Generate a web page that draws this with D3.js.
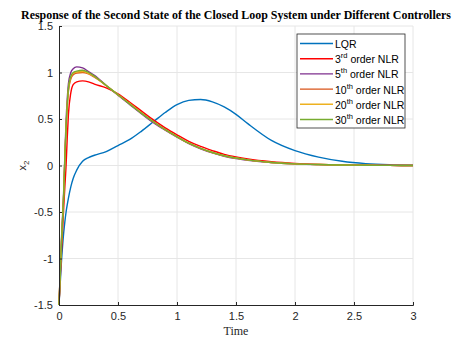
<!DOCTYPE html>
<html>
<head>
<meta charset="utf-8">
<script src="https://cdn.jsdelivr.net/npm/d3@7"></script>
<style>
  body { margin: 0; background: #fff; }
  svg { display: block; }
</style>
</head>
<body>
<svg id="chart"></svg>
<script>
// time samples
var time = [0, 0.02, 0.04, 0.05, 0.06, 0.07, 0.08, 0.1, 0.12, 0.15, 0.2, 0.25, 0.3, 0.4, 0.5, 0.6, 0.7, 0.8, 0.9, 1.0, 1.1, 1.2, 1.3, 1.4, 1.5, 1.6, 1.8, 2.0, 2.2, 2.4, 2.6, 2.8, 3.0];

// x2 responses
var lqr   = [-1.5, -1.05, -0.72, -0.6, -0.5, -0.42, -0.35, -0.23, -0.14, -0.05, 0.045, 0.085, 0.11, 0.15, 0.215, 0.28, 0.37, 0.47, 0.57, 0.655, 0.70, 0.71, 0.685, 0.63, 0.55, 0.45, 0.27, 0.16, 0.09, 0.045, 0.02, 0.008, 0.003];
var nlr3  = [-1.5, -0.95, -0.45, -0.22, 0.0, 0.3, 0.55, 0.78, 0.87, 0.90, 0.91, 0.90, 0.875, 0.835, 0.77, 0.68, 0.585, 0.49, 0.405, 0.33, 0.26, 0.205, 0.16, 0.12, 0.092, 0.07, 0.04, 0.022, 0.012, 0.006, 0.003, 0.001, 0];
var nlr5  = [-1.5, -0.82, -0.26, 0.12, 0.48, 0.72, 0.88, 1.0, 1.04, 1.06, 1.05, 1.01, 0.97, 0.86, 0.755, 0.655, 0.555, 0.46, 0.38, 0.305, 0.235, 0.18, 0.135, 0.10, 0.075, 0.057, 0.031, 0.017, 0.009, 0.005, 0.003, 0.001, 0];
var nlr10 = [-1.5, -0.86, -0.3, 0.08, 0.4, 0.64, 0.8, 0.93, 0.975, 0.995, 1.0, 0.985, 0.95, 0.86, 0.76, 0.665, 0.565, 0.47, 0.385, 0.31, 0.24, 0.185, 0.14, 0.105, 0.08, 0.06, 0.033, 0.018, 0.01, 0.005, 0.003, 0.001, 0];
var nlr20 = [-1.5, -0.85, -0.3, 0.1, 0.42, 0.66, 0.82, 0.95, 0.99, 1.005, 1.01, 0.99, 0.955, 0.86, 0.76, 0.665, 0.565, 0.47, 0.385, 0.31, 0.24, 0.185, 0.14, 0.105, 0.08, 0.06, 0.033, 0.018, 0.01, 0.005, 0.003, 0.001, 0];
var nlr30 = [-1.5, -0.85, -0.3, 0.1, 0.42, 0.66, 0.83, 0.96, 1.0, 1.015, 1.025, 1.0, 0.96, 0.86, 0.76, 0.66, 0.56, 0.47, 0.385, 0.31, 0.24, 0.185, 0.14, 0.105, 0.08, 0.06, 0.033, 0.018, 0.01, 0.005, 0.003, 0.001, 0];

var seriesNames = ["LQR", "3rd order NLR", "5th order NLR", "10th order NLR", "20th order NLR", "30th order NLR"];
var seriesColors = ["#0072BD", "#FF0000", "#7E2F8E", "#D95319", "#EDB120", "#77AC30"];
var seriesValues = [lqr, nlr3, nlr5, nlr10, nlr20, nlr30];

var xTicks = [0, 0.5, 1, 1.5, 2, 2.5, 3];
var yTicks = [-1.5, -1, -0.5, 0, 0.5, 1, 1.5];

var width = 457, height = 343;
var margin = {top: 26, right: 44, bottom: 38, left: 59};

var svg = d3.select("#chart").attr("width", width).attr("height", height);

var x = d3.scaleLinear().domain([0, 3]).range([margin.left, width - margin.right]);
var y = d3.scaleLinear().domain([-1.5, 1.5]).range([height - margin.bottom, margin.top]);

// grid
var grid = svg.append("g");
grid.selectAll("line.gx").data(xTicks.slice(1)).enter().append("line")
    .attr("x1", d => x(d)).attr("x2", d => x(d))
    .attr("y1", y(-1.5)).attr("y2", y(1.5))
    .attr("stroke", "#e6e6e6").attr("stroke-width", 1);
grid.selectAll("line.gy").data(yTicks.slice(1)).enter().append("line")
    .attr("x1", x(0)).attr("x2", x(3))
    .attr("y1", d => y(d)).attr("y2", d => y(d))
    .attr("stroke", "#e6e6e6").attr("stroke-width", 1);

// lines
var line = d3.line()
    .x((d, i) => x(time[i]))
    .y(d => y(d))
    .curve(d3.curveMonotoneX);

var plot = svg.append("g");
seriesValues.forEach(function(vals, k){
    plot.append("path")
        .attr("d", line(vals))
        .attr("fill", "none")
        .attr("stroke", seriesColors[k])
        .attr("stroke-width", 1.4);
});

// axes (ticks point inward like MATLAB), plain hyphen minus
var fmt = d => String(d);
var xAxis = svg.append("g")
    .attr("transform", `translate(0, ${y(-1.5)})`)
    .call(d3.axisBottom(x).tickValues(xTicks).tickSize(-3).tickPadding(7).tickFormat(fmt));
var yAxis = svg.append("g")
    .attr("transform", `translate(${x(0)}, 0)`)
    .call(d3.axisLeft(y).tickValues(yTicks).tickSize(-3).tickPadding(6).tickFormat(fmt));

[xAxis, yAxis].forEach(function(a){
    a.select(".domain").attr("stroke", "#262626").attr("stroke-width", 1);
    a.selectAll(".tick line").attr("stroke", "#262626");
    a.selectAll(".tick text")
        .attr("fill", "#262626")
        .style("font-family", "'Liberation Sans', Arial, sans-serif")
        .style("font-size", "11px");
});

// title
svg.append("text")
    .attr("x", 236)
    .attr("y", 18.5)
    .attr("text-anchor", "middle")
    .attr("textLength", 430)
    .attr("lengthAdjust", "spacingAndGlyphs")
    .style("font-family", "'Liberation Serif', 'Times New Roman', serif")
    .style("font-weight", "bold")
    .style("font-size", "12px")
    .text("Response of the Second State of the Closed Loop System under Different Controllers");

// axis labels
svg.append("text")
    .attr("x", (x(0) + x(3)) / 2)
    .attr("y", 335)
    .attr("text-anchor", "middle")
    .attr("fill", "#262626")
    .style("font-family", "'Liberation Serif', 'Times New Roman', serif")
    .style("font-size", "12px")
    .text("Time");

var yl = svg.append("text")
    .attr("transform", `translate(26, ${y(0)}) rotate(-90)`)
    .attr("text-anchor", "middle")
    .attr("fill", "#262626")
    .style("font-family", "'Liberation Sans', Arial, sans-serif")
    .style("font-size", "11px");
yl.append("tspan").text("x");
yl.append("tspan").attr("dy", 3).style("font-size", "8px").text("2");

// legend
var lg = svg.append("g").attr("transform", "translate(297, 34)");
lg.append("rect")
    .attr("width", 108).attr("height", 94)
    .attr("fill", "#fff").attr("stroke", "#262626").attr("stroke-width", 0.8);

var sup = ["", "rd", "th", "th", "th", "th"];
var num = ["", "3", "5", "10", "20", "30"];
seriesNames.forEach(function(name, k){
    var yy = 9.5 + k * 15.2;
    lg.append("line")
        .attr("x1", 3).attr("x2", 36)
        .attr("y1", yy).attr("y2", yy)
        .attr("stroke", seriesColors[k]).attr("stroke-width", 1.4);
    var t = lg.append("text")
        .attr("x", 38).attr("y", yy + 4.5)
        .attr("fill", "#000")
        .style("font-family", "'Liberation Sans', Arial, sans-serif")
        .style("font-size", "10.5px");
    if (k === 0) {
        t.text(name);
    } else {
        t.append("tspan").text(num[k]);
        t.append("tspan").attr("dy", -5).style("font-size", "7.5px").text(sup[k]);
        t.append("tspan").attr("dy", 5).text(" order NLR");
    }
});
</script>
</body>
</html>
